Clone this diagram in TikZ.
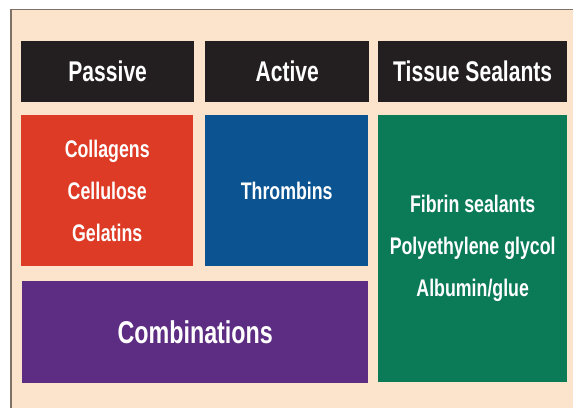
\documentclass[tikz,border=0pt]{standalone}
\usepackage{fontspec}
\setmainfont{Liberation Sans}
\newfontfamily\boxfont[FakeStretch=0.74]{Liberation Sans}
\definecolor{peach}{HTML}{FBE4CB}
\definecolor{frameline}{HTML}{7D7168}
\definecolor{headblack}{HTML}{231F20}
\definecolor{passred}{HTML}{DE3B27}
\definecolor{actblue}{HTML}{0B5391}
\definecolor{sealgreen}{HTML}{0B7A56}
\definecolor{combpurple}{HTML}{5C2D82}

\begin{document}
\begin{tikzpicture}[x=1pt, y=-1pt,
  block/.style={anchor=north west, inner sep=0pt, align=center, text=white,
    font=\boxfont\bfseries\fontsize{24}{42}\selectfont},
  header/.style={block, fill=headblack, minimum height=61pt,
    font=\boxfont\bfseries\fontsize{28.5}{32}\selectfont}]
  \useasboundingbox (0,0) rectangle (573,408);
  \fill[white] (0,0) rectangle (573,408);
  \fill[peach] (11,9.5) rectangle (573,408);
  \draw[frameline, line width=1.5pt] (11,408) -- (11,9.5) -- (573,9.5);
  % column headers
  \node[header, minimum width=173pt] (passive) at (21,41) {Passive};
  \node[header, minimum width=164pt] (active) at (205,41) {Active};
  \node[header, minimum width=189pt] (sealants) at (378,41) {Tissue Sealants};
  % agent boxes
  \node[block, fill=passred, minimum width=172pt, minimum height=151pt] (collagens)
    at (21,115) {Collagens\\Cellulose\\Gelatins};
  \node[block, fill=actblue, minimum width=163pt, minimum height=151pt] (thrombins)
    at (205,115) {Thrombins};
  \node[block, fill=sealgreen, minimum width=189pt, minimum height=267pt] (fibrin)
    at (378,115) {Fibrin sealants\\Polyethylene glycol\\Albumin/glue};
  \node[block, fill=combpurple, minimum width=346pt, minimum height=102pt,
    font=\boxfont\bfseries\fontsize{31.5}{36}\selectfont] (combinations)
    at (22,281) {Combinations};
\end{tikzpicture}
\end{document}
